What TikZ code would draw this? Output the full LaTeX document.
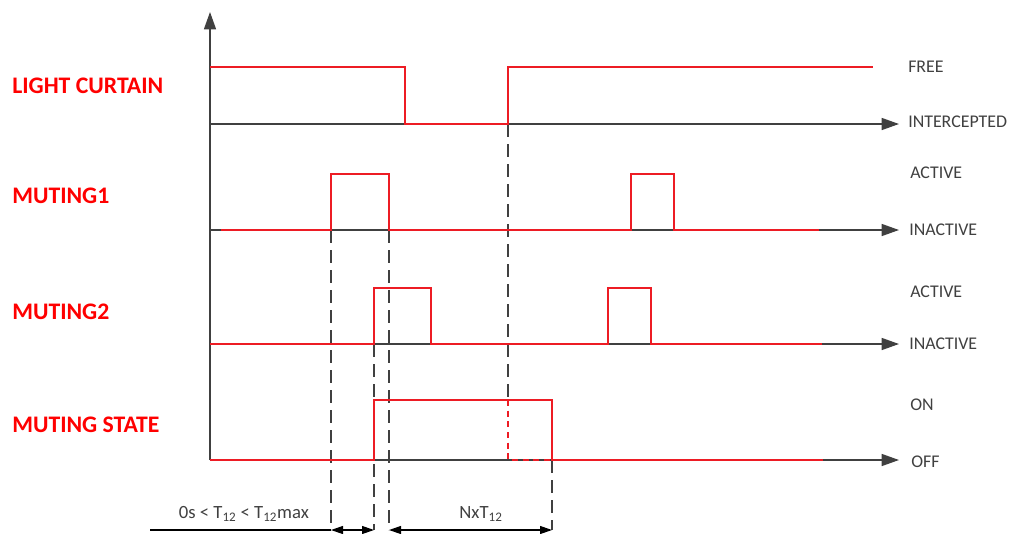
\documentclass[tikz,border=0pt]{standalone}
\usepackage{fontspec}
\setmainfont{Carlito}
\usetikzlibrary{arrows.meta}
\definecolor{sigred}{RGB}{237,28,36}
\definecolor{lblred}{RGB}{255,0,0}
\definecolor{axgray}{RGB}{64,64,64}
\begin{document}
\begin{tikzpicture}[x=0.75pt,y=-0.75pt,
  axis/.style={draw=axgray,line width=1.1pt},
  axarrow/.style={axis,-{Triangle[length=13pt,width=9pt]}},
  sig/.style={draw=sigred,line width=2pt,line join=miter},
  sigdash/.style={sig,dash pattern=on 4.5pt off 3.5pt},
  guide/.style={draw=axgray,line width=0.9pt,dash pattern=on 10pt off 5pt},
  dimarrow/.style={draw=black,line width=0.9pt,{Triangle[length=9pt,width=6pt]}-{Triangle[length=9pt,width=6pt]}},
  siglabel/.style={font=\bfseries\fontsize{17.8}{20}\selectfont,text=lblred,anchor=west,inner sep=0pt},
  statelabel/.style={font=\fontsize{13.4}{15}\selectfont,text=axgray,anchor=west,inner sep=0pt},
  dimlabel/.style={font=\fontsize{14}{16}\selectfont,text=axgray,inner sep=0pt},
]
\useasboundingbox (0,0) rectangle (1011,533);

% axes
\coordinate (origin) at (210,460);
\coordinate (ytop) at (210,12);
\draw[axarrow] (origin) -- (ytop);
\coordinate (lc0) at (210,124);  \coordinate (lc1) at (899,124);
\coordinate (m10) at (210,230);  \coordinate (m11) at (899,230);
\coordinate (m20) at (210,344);  \coordinate (m21) at (899,344);
\coordinate (ms0) at (210,460);  \coordinate (ms1) at (899,460);
\draw[axarrow] (lc0) -- (lc1);
\draw[axarrow] (m10) -- (m11);
\draw[axarrow] (m20) -- (m21);
\draw[axarrow] (ms0) -- (ms1);

% guides
\draw[guide] (331,230) -- (331,530);
\draw[guide] (374,344) -- (374,530);
\draw[guide] (389,230) -- (389,530);
\draw[guide] (508,124) -- (508,400);
\draw[guide] (552,460) -- (552,530);

% signals
\draw[sig] (210,67) -- (405,67) -- (405,124) -- (508,124) -- (508,67) -- (873,67);
\draw[sig] (221,230) -- (331,230) -- (331,174) -- (389,174) -- (389,230) -- (631,230) -- (631,174) -- (674,174) -- (674,230) -- (819,230);
\draw[sig] (210,344) -- (374,344) -- (374,288) -- (431,288) -- (431,344) -- (608,344) -- (608,288) -- (651,288) -- (651,344) -- (822,344);
\draw[sig] (210,460) -- (374,460) -- (374,400) -- (552,400) -- (552,460) -- (823,460);
\draw[sigdash] (508,400) -- (508,460) -- (552,460);

% dimension line
\coordinate (d0) at (150,530);
\coordinate (d1) at (331,530);
\coordinate (d2) at (374,530);
\coordinate (d3) at (389,530);
\coordinate (d4) at (552,530);
\draw[draw=black,line width=0.9pt] (d0) -- (d1);
\draw[dimarrow] (d1) -- (d2);
\draw[dimarrow] (d3) -- (d4);
\node[dimlabel] (t12) at (244,514) {0s < T\textsubscript{12} < T\textsubscript{12}max};
\node[dimlabel] (nxt) at (481,514) {NxT\textsubscript{12}};

% signal labels
\node[siglabel] (lLC) at (12,86) {LIGHT CURTAIN};
\node[siglabel] (lM1) at (12,196) {MUTING1};
\node[siglabel] (lM2) at (12,312) {MUTING2};
\node[siglabel] (lMS) at (12,425) {MUTING STATE};

% state labels
\node[statelabel] (sFree) at (908,67) {FREE};
\node[statelabel] (sInt) at (908,122) {INTERCEPTED};
\node[statelabel] (sA1) at (910,173) {ACTIVE};
\node[statelabel] (sI1) at (909,230) {INACTIVE};
\node[statelabel] (sA2) at (910,292) {ACTIVE};
\node[statelabel] (sI2) at (909,344) {INACTIVE};
\node[statelabel] (sOn) at (910,405) {ON};
\node[statelabel] (sOff) at (911,462) {OFF};
\end{tikzpicture}
\end{document}
